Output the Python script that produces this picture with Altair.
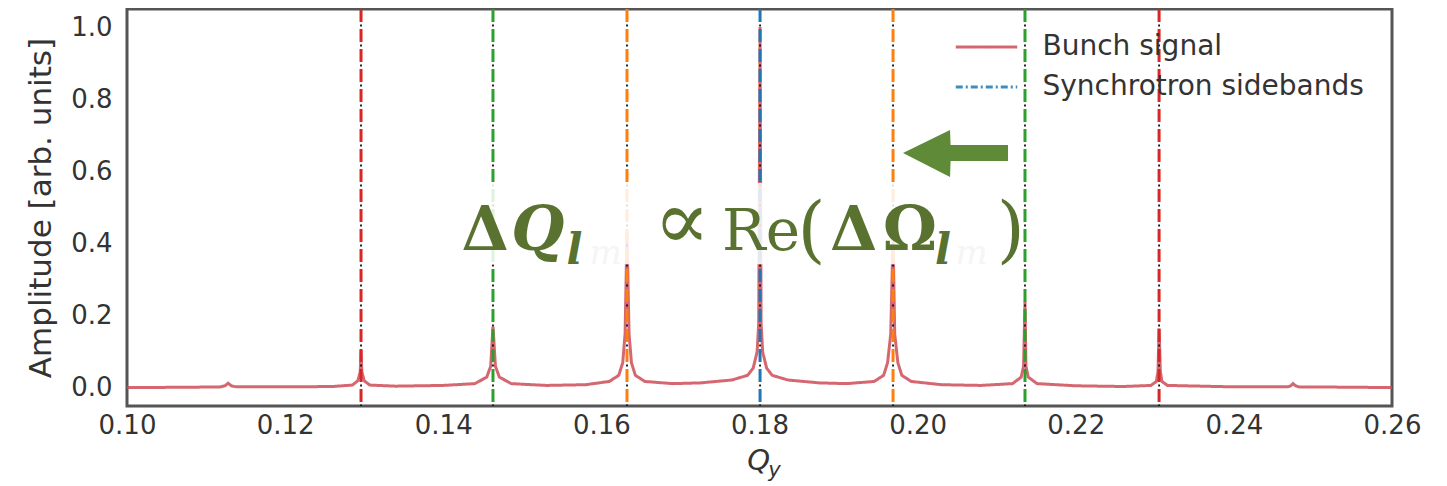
import altair as alt
import pandas as pd

# ---- data ----
q_signal = [0.1000, 0.1080, 0.1118, 0.1124, 0.11278, 0.1132, 0.1138, 0.1200, 0.1260,
            0.1285, 0.1292, 0.1295, 0.1296, 0.1297, 0.1300, 0.1307, 0.1340, 0.1400,
            0.1440, 0.1455, 0.1460, 0.14629, 0.1466, 0.1471, 0.1486, 0.1530, 0.1580,
            0.1610, 0.1622, 0.1627, 0.1630, 0.16324, 0.1635, 0.1638, 0.1643, 0.1655,
            0.1690, 0.1725, 0.1765, 0.1785, 0.1792, 0.1797, 0.1799, 0.18007, 0.1802,
            0.1804, 0.1809, 0.1816, 0.1836, 0.1876, 0.1910, 0.1945, 0.1957, 0.1962,
            0.1966, 0.19689, 0.1971, 0.1975, 0.1980, 0.1992, 0.2030, 0.2080, 0.2120,
            0.2131, 0.2134, 0.21358, 0.2137, 0.2140, 0.2151, 0.2200, 0.2260, 0.2295,
            0.2302, 0.2304, 0.23054, 0.2307, 0.2309, 0.2316, 0.2400, 0.2468, 0.2472,
            0.24748, 0.2478, 0.2482, 0.2550, 0.2600]
amp_signal = [0.001, 0.002, 0.003, 0.006, 0.013, 0.006, 0.003, 0.003, 0.004,
              0.008, 0.020, 0.045, 0.105, 0.045, 0.020, 0.008, 0.005, 0.007,
              0.012, 0.030, 0.060, 0.170, 0.060, 0.030, 0.012, 0.007, 0.009,
              0.018, 0.035, 0.070, 0.150, 0.430, 0.150, 0.070, 0.035, 0.018,
              0.012, 0.014, 0.022, 0.035, 0.055, 0.100, 0.180, 1.000, 0.180,
              0.100, 0.055, 0.035, 0.022, 0.014, 0.012, 0.018, 0.035, 0.070,
              0.150, 0.420, 0.150, 0.070, 0.035, 0.018, 0.009, 0.007, 0.012,
              0.030, 0.060, 0.240, 0.060, 0.030, 0.012, 0.006, 0.004, 0.007,
              0.018, 0.045, 0.165, 0.045, 0.018, 0.007, 0.003, 0.003, 0.006,
              0.012, 0.006, 0.003, 0.002, 0.001]

sideband_q = [0.12960, 0.14629, 0.16324, 0.18007, 0.19689, 0.21358, 0.23054]
sideband_colors = ["#d62728", "#2ca02c", "#ff7f0e", "#1f77b4", "#ff7f0e", "#2ca02c", "#d62728"]

series_names = ["Bunch signal", "Synchrotron sidebands"]
series_colors = ["#cc4c56", "#1f77b4"]

x_ticks = [0.10, 0.12, 0.14, 0.16, 0.18, 0.20, 0.22, 0.24, 0.26]
y_ticks = [0.0, 0.2, 0.4, 0.6, 0.8, 1.0]

# formula annotation pieces (data coordinates)
bold_txt = ["Δ", "Δ", "Ω"]
bold_x = [0.14230, 0.18892, 0.19560]
bold_y = [0.382, 0.382, 0.382]

bi_txt = ["Q", "l", "l"]
bi_x = [0.14860, 0.15560, 0.20220]
bi_y = [0.382, 0.3435, 0.3435]
bi_size = [61, 42, 42]

reg_txt = ["∝", "Re", "(", ")"]
reg_x = [0.16660, 0.17526, 0.18480, 0.21000]
reg_y = [0.384, 0.382, 0.372, 0.372]
reg_size = [84, 58, 72, 72]

faint_txt = ["m", "m"]
faint_x = [0.15850, 0.20480]
faint_y = [0.3435, 0.3435]

box_x = [0.14149]
box_x2 = [0.21295]
box_y = [0.343]
box_y2 = [0.568]

arrow_x = [0.19815, 0.20410, 0.20417, 0.21143]
arrow_lo = [0.651, 0.5845, 0.6288, 0.6288]
arrow_hi = [0.651, 0.7147, 0.6732, 0.6732]

# ---- build ----
W, H = 1265, 397
xs = alt.Scale(domain=[0.10, 0.26], nice=False, zero=False)
ys = alt.Scale(domain=[-0.05, 1.05], nice=False, zero=False)

sig_df = pd.DataFrame({"q": q_signal, "amp": amp_signal, "series": "Bunch signal"})
rule_df = pd.DataFrame({"q": sideband_q, "c": sideband_colors})

leg = alt.Legend(title=None, orient="none", legendX=837.5, legendY=16,
                 symbolType="M-1.5,0H1.5", symbolSize=1681, symbolStrokeWidth=3,
                 labelOffset=34, labelFontSize=28, labelColor="#333333", labelLimit=0,
                 labelFont="DejaVu Sans", rowPadding=4, padding=0)

signal = alt.Chart(sig_df).mark_line(strokeWidth=3, opacity=0.85).encode(
    x=alt.X("q:Q", scale=xs,
            axis=alt.Axis(values=x_ticks, format=".2f", title=None, labelPadding=6,
                          labelFlush=False)),
    y=alt.Y("amp:Q", scale=ys,
            axis=alt.Axis(values=y_ticks, format=".1f", title="Amplitude [arb. units]",
                          labelPadding=15, titlePadding=13, labelFlush=False)),
    color=alt.Color("series:N", scale=alt.Scale(domain=series_names, range=series_colors),
                    legend=leg),
    strokeDash=alt.StrokeDash("series:N",
                              scale=alt.Scale(domain=series_names, range=[[1, 0], [7, 3, 2, 3]]),
                              legend=leg),
)

rules = alt.Chart(rule_df).mark_rule(strokeWidth=3, strokeDash=[13, 7]).encode(
    x=alt.X("q:Q", scale=xs),
    stroke=alt.Stroke("c:N", scale=None),
)
dots = alt.Chart(rule_df).mark_rule(strokeWidth=1.8, strokeDash=[2, 18], strokeDashOffset=4.5,
                                    color="#111111").encode(x=alt.X("q:Q", scale=xs))

box = alt.Chart(pd.DataFrame({"x": box_x, "x2": box_x2, "y": box_y, "y2": box_y2})).mark_rect(
    fill="white", opacity=0.85).encode(
    x=alt.X("x:Q", scale=xs), x2="x2:Q", y=alt.Y("y:Q", scale=ys), y2="y2:Q")

txt_color = "#5a7230"
bold = alt.Chart(pd.DataFrame({"x": bold_x, "y": bold_y, "t": bold_txt})).mark_text(
    font="DejaVu Serif", fontWeight="bold", fontSize=61, align="left", baseline="alphabetic",
    color=txt_color).encode(x=alt.X("x:Q", scale=xs), y=alt.Y("y:Q", scale=ys), text="t:N")
bitalic = alt.Chart(pd.DataFrame({"x": bi_x, "y": bi_y, "t": bi_txt, "s": bi_size})).mark_text(
    font="DejaVu Serif", fontWeight="bold", fontStyle="italic", align="left",
    baseline="alphabetic", color=txt_color).encode(
    x=alt.X("x:Q", scale=xs), y=alt.Y("y:Q", scale=ys), text="t:N",
    size=alt.Size("s:Q", scale=None))
regular = alt.Chart(pd.DataFrame({"x": reg_x, "y": reg_y, "t": reg_txt, "s": reg_size})).mark_text(
    font="DejaVu Serif", align="left", baseline="alphabetic", color=txt_color).encode(
    x=alt.X("x:Q", scale=xs), y=alt.Y("y:Q", scale=ys), text="t:N",
    size=alt.Size("s:Q", scale=None))
faint = alt.Chart(pd.DataFrame({"x": faint_x, "y": faint_y, "t": faint_txt})).mark_text(
    font="DejaVu Serif", fontStyle="italic", fontSize=34, align="left", baseline="alphabetic",
    color="#f5f5f5").encode(x=alt.X("x:Q", scale=xs), y=alt.Y("y:Q", scale=ys), text="t:N")

arrow = alt.Chart(pd.DataFrame({"x": arrow_x, "lo": arrow_lo, "hi": arrow_hi})).mark_area(
    color="#5f8a37", opacity=1).encode(
    x=alt.X("x:Q", scale=xs), y=alt.Y("lo:Q", scale=ys), y2="hi:Q")

xt_df = pd.DataFrame({"x": [0.17990], "t": ["Q"]})
xsub_df = pd.DataFrame({"x": [0.18112], "t": ["y"]})
xtitle = alt.Chart(xt_df).mark_text(font="DejaVu Sans", fontStyle="italic", fontSize=29,
                                     color="#333333", baseline="middle", align="center").encode(
    x=alt.X("x:Q", scale=xs), y=alt.value(H + 55), text="t:N")
xsub = alt.Chart(xsub_df).mark_text(font="DejaVu Sans", fontStyle="italic", fontSize=21,
                                     color="#333333", baseline="middle", align="left").encode(
    x=alt.X("x:Q", scale=xs), y=alt.value(H + 65), text="t:N")

chart = alt.layer(signal, rules, dots, box, bold, bitalic, regular, faint, arrow, xtitle, xsub).properties(
    width=W, height=H,
    autosize=alt.AutoSizeParams(type="none"),
    padding={"left": 119, "top": 1, "right": 40, "bottom": 76},
    background="white",
).configure_axis(
    grid=False, domain=False, ticks=False, tickSize=0,
    labelFontSize=26, labelColor="#333333", labelFont="DejaVu Sans",
    titleFontSize=31, titleColor="#333333", titleFont="DejaVu Sans", titleFontWeight="normal",
).configure_view(stroke="#555555", strokeWidth=3)

chart.save("out.html", embed_options={"renderer": "svg", "actions": False})
